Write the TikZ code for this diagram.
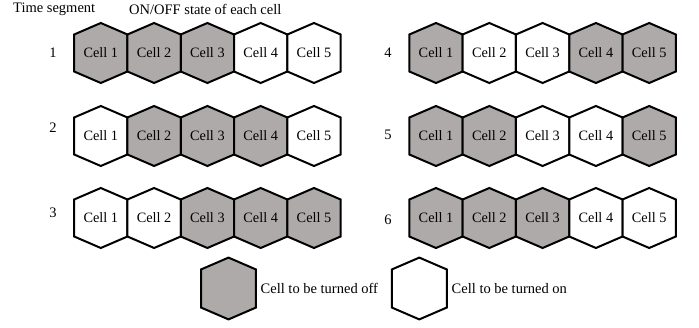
\documentclass[tikz,border=0pt]{standalone}
\usepackage{fontspec}
\setmainfont{Liberation Serif}
\newfontfamily\timesfont{Liberation Serif}
\definecolor{offgrey}{RGB}{174,170,169}
\newcommand{\hexcell}[6]{%
  % #1 name, #2 x, #3 y, #4 fill, #5 text, #6 size factor
  \draw[hexline,fill=#4] (#2,#3) ++(0,-30*#6) -- ++(26.65*#6,11.5*#6) -- ++(0,37*#6) -- ++(-26.65*#6,11.5*#6) -- ++(-26.65*#6,-11.5*#6) -- ++(0,-37*#6) -- cycle;
  \node[celltext] (#1) at (#2,#3) {#5};}
\begin{document}
\begin{tikzpicture}[x=1pt,y=-1pt,
  hexline/.style={draw=black,line width=2pt,line join=miter},
  celltext/.style={inner sep=0pt,font=\timesfont\fontsize{14.3}{16}\selectfont},
  lbl/.style={inner sep=0pt,font=\timesfont\fontsize{14.5}{16}\selectfont}]
\useasboundingbox (0,0) rectangle (699,328);
\node[lbl,anchor=west] (hts) at (13,9) {Time segment};
\node[lbl,anchor=west] (hon) at (129,9) {ON/OFF state of each cell};
\node[lbl] (t1) at (53,53) {1};
\node[lbl] (t2) at (53,128) {2};
\node[lbl] (t3) at (53,213) {3};
\node[lbl] (t4) at (388,53) {4};
\node[lbl] (t5) at (388,135) {5};
\node[lbl] (t6) at (388,220) {6};
\foreach \r/\y/\xs/\st in {
  1/53/100.8/{offgrey,offgrey,offgrey,white,white},
  2/136/100.8/{white,offgrey,offgrey,offgrey,white},
  3/218/100.8/{white,white,offgrey,offgrey,offgrey},
  4/53/436/{offgrey,white,white,offgrey,offgrey},
  5/136/436/{offgrey,offgrey,white,white,offgrey},
  6/218/436/{offgrey,offgrey,offgrey,white,white}}{
  \foreach \f [count=\k] in \st {
    \pgfmathsetmacro{\cx}{\xs+53.3*(\k-1)}
    \hexcell{c\r\k}{\cx}{\y}{\f}{Cell \k}{1}
  }
}
\hexcell{legoff}{228.5}{288.5}{offgrey}{}{1.03}
\hexcell{legon}{419.3}{288.5}{white}{}{1.03}
\node[lbl,anchor=west] (toff) at (260.5,288.5) {Cell to be turned off};
\node[lbl,anchor=west] (ton) at (451.5,288.5) {Cell to be turned on};
\end{tikzpicture}
\end{document}
